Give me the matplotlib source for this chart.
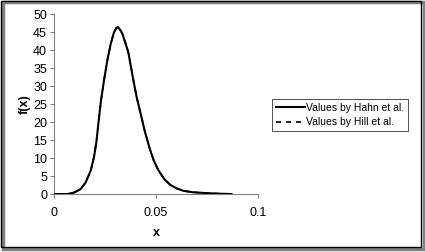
import matplotlib
matplotlib.use("Agg")
import matplotlib.pyplot as plt
from matplotlib.patches import Rectangle

plt.rcParams['font.family'] = ['Liberation Sans', 'DejaVu Sans']

x_hahn = [0.0, 0.0065, 0.0098, 0.0131, 0.0155, 0.0180, 0.0196, 0.0208, 0.0218, 0.0230,
          0.0245, 0.0261, 0.0278, 0.0294, 0.0305, 0.0314, 0.0325, 0.0335, 0.0350, 0.0364,
          0.0389, 0.0405, 0.0422, 0.0445, 0.0470, 0.0490, 0.0511, 0.0540, 0.0569, 0.0600,
          0.0634, 0.0680, 0.0750, 0.0810, 0.0870]
f_hahn = [0.0, 0.0, 0.4, 1.4, 3.2, 6.5, 10.2, 14.5, 19.8, 25.8,
          31.5, 37.0, 41.7, 44.9, 46.1, 46.4, 45.6, 44.6, 42.0, 39.5,
          31.7, 27.0, 23.0, 17.5, 12.5, 9.2, 6.7, 4.2, 2.6, 1.6,
          0.9, 0.5, 0.25, 0.1, 0.0]
x_hill = x_hahn
f_hill = f_hahn

xticks = [0, 0.05, 0.1]
xtick_labels = ['0', '0.05', '0.1']
yticks = [0, 5, 10, 15, 20, 25, 30, 35, 40, 45, 50]

fig = plt.figure(figsize=(4.25, 2.52), dpi=100)
ax = fig.add_axes([0.127, 0.230, 0.480, 0.714])

ax.plot(x_hill, f_hill, color='black', lw=1.2, ls=(0, (3, 3)), label='Values by Hill et al.', zorder=2)
ax.plot(x_hahn, f_hahn, color='black', lw=1.5, label='Values by Hahn et al.', zorder=3,
        solid_joinstyle='round')

ax.set_xlim(0, 0.1)
ax.set_ylim(0, 50)
ax.set_xticks(xticks)
ax.set_xticklabels(xtick_labels)
ax.set_yticks(yticks)
for s in ['top', 'right']:
    ax.spines[s].set_visible(False)
for s in ['left', 'bottom']:
    ax.spines[s].set_color('#808080')
    ax.spines[s].set_linewidth(0.8)
ax.tick_params(axis='both', colors='#808080', labelcolor='black', labelsize=9,
               length=3, width=0.8, direction='out')
ax.tick_params(axis='x', pad=6)
ax.tick_params(axis='y', pad=2)
ax.set_xlabel('x', fontsize=9, fontweight='bold', labelpad=6)
ax.set_ylabel('f(x)', fontsize=9, fontweight='bold', labelpad=2)

handles, labels = ax.get_legend_handles_labels()
leg = fig.legend(handles[::-1], labels[::-1], loc='upper left',
                 bbox_to_anchor=(272/425, 1 - 99/252), fontsize=7.5,
                 frameon=True, fancybox=False, handlelength=2.8, handletextpad=0.1,
                 borderpad=0.35, labelspacing=0.45, borderaxespad=0)
leg.get_frame().set_edgecolor('black')
leg.get_frame().set_linewidth(0.6)

# figure frame with shadow
fig.patches.append(Rectangle((3/425, 0.5/252 + 3/252), 421/425, 1 - 5/252,
                             transform=fig.transFigure, fill=False,
                             edgecolor='#808080', lw=2.5, zorder=0))
fig.patches.append(Rectangle((1/425, 5/252), 420/425, 1 - 6/252,
                             transform=fig.transFigure, fill=False,
                             edgecolor='black', lw=1.0, zorder=1))

fig.savefig('out.png', dpi=100)
